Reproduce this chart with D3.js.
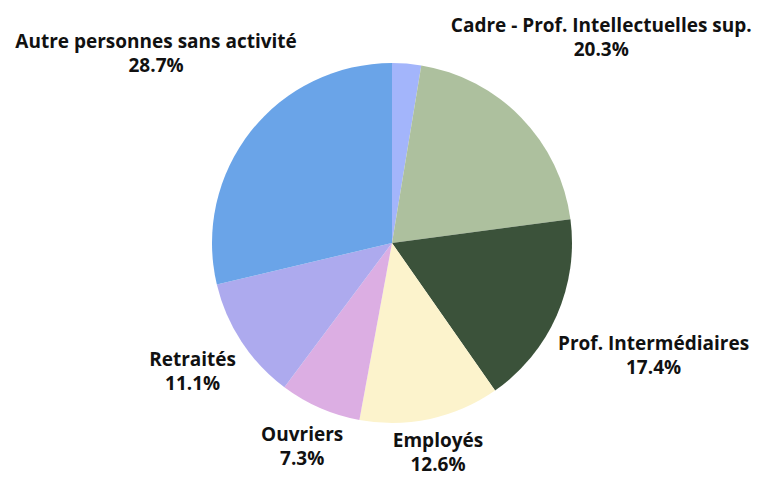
<!DOCTYPE html>
<html>
<head>
<meta charset="utf-8">
<script src="https://cdn.jsdelivr.net/npm/d3@7"></script>
<style>
  body { margin: 0; background: #fff; }
  svg text { font-family: "Open Sans", Lato, sans-serif; font-weight: 700; fill: #111; }
</style>
</head>
<body>
<svg width="762" height="478"></svg>
<script>
var width = 762, height = 478

// data, clockwise from 12 o'clock
var categories = ['', 'Cadre - Prof. Intellectuelles sup.', 'Prof. Intermédiaires', 'Employés', 'Ouvriers', 'Retraités', 'Autre personnes sans activité']
var values = [2.6, 20.3, 17.4, 12.6, 7.3, 11.1, 28.7]
var labels = ['', '20.3%', '17.4%', '12.6%', '7.3%', '11.1%', '28.7%']
var colors = ['#a3b5fb', '#adc09e', '#3b523a', '#fcf3cc', '#dcaee3', '#adaaee', '#6aa4e8']

var cx = 392, cy = 243, radius = 180
var gap = 10.5
var fontSize = 19, lineGap = 24

var items = categories.map(function(c, i) {
  return {name: c, value: values[i], label: labels[i], color: colors[i]}
})

var pie = d3.pie().sort(null).value(function(d) { return d.value })
var arc = d3.arc().innerRadius(0).outerRadius(radius)

var svg = d3.select('svg')
var g = svg.append('g').attr('transform', 'translate(' + cx + ',' + cy + ')')

var arcs = pie(items)

g.selectAll('path')
  .data(arcs)
  .enter().append('path')
  .attr('d', arc)
  .attr('fill', function(d) { return d.data.color })

var lab = g.selectAll('g.lab')
  .data(arcs.filter(function(d) { return d.data.name }))
  .enter().append('g').attr('class', 'lab')

lab.each(function(d) {
  var t = d3.select(this).append('text')
    .attr('text-anchor', 'middle')
    .style('font-size', fontSize + 'px')
  t.append('tspan').attr('x', 0).attr('y', 0).text(d.data.name)
  t.append('tspan').attr('x', 0).attr('y', lineGap).text(d.data.label)
})

// push each label box (cap top to last descent) out along the slice middle until it clears the pie
lab.each(function(d) {
  var bb = this.getBBox()
  var top = -fontSize * 0.72, h = lineGap + fontSize * 0.29 - top
  var a = (d.startAngle + d.endAngle) / 2
  var ux = Math.sin(a), uy = -Math.cos(a)
  var ox = -(bb.x + bb.width / 2), oy = -(top + h / 2)
  var lo = 0, hi = 600
  for (var k = 0; k < 50; k++) {
    var mid = (lo + hi) / 2
    var x0 = ux * mid - bb.width / 2, y0 = uy * mid - h / 2
    var px = clamp(0, x0, x0 + bb.width), py = clamp(0, y0, y0 + h)
    if (Math.sqrt(px * px + py * py) < radius + gap) lo = mid
    else hi = mid
  }
  d3.select(this).attr('transform', 'translate(' + (ux * hi + ox) + ',' + (uy * hi + oy) + ')')
})

function clamp(num, min, max) {
  return num <= min ? min : num >= max ? max : num;
}
</script>
</body>
</html>
